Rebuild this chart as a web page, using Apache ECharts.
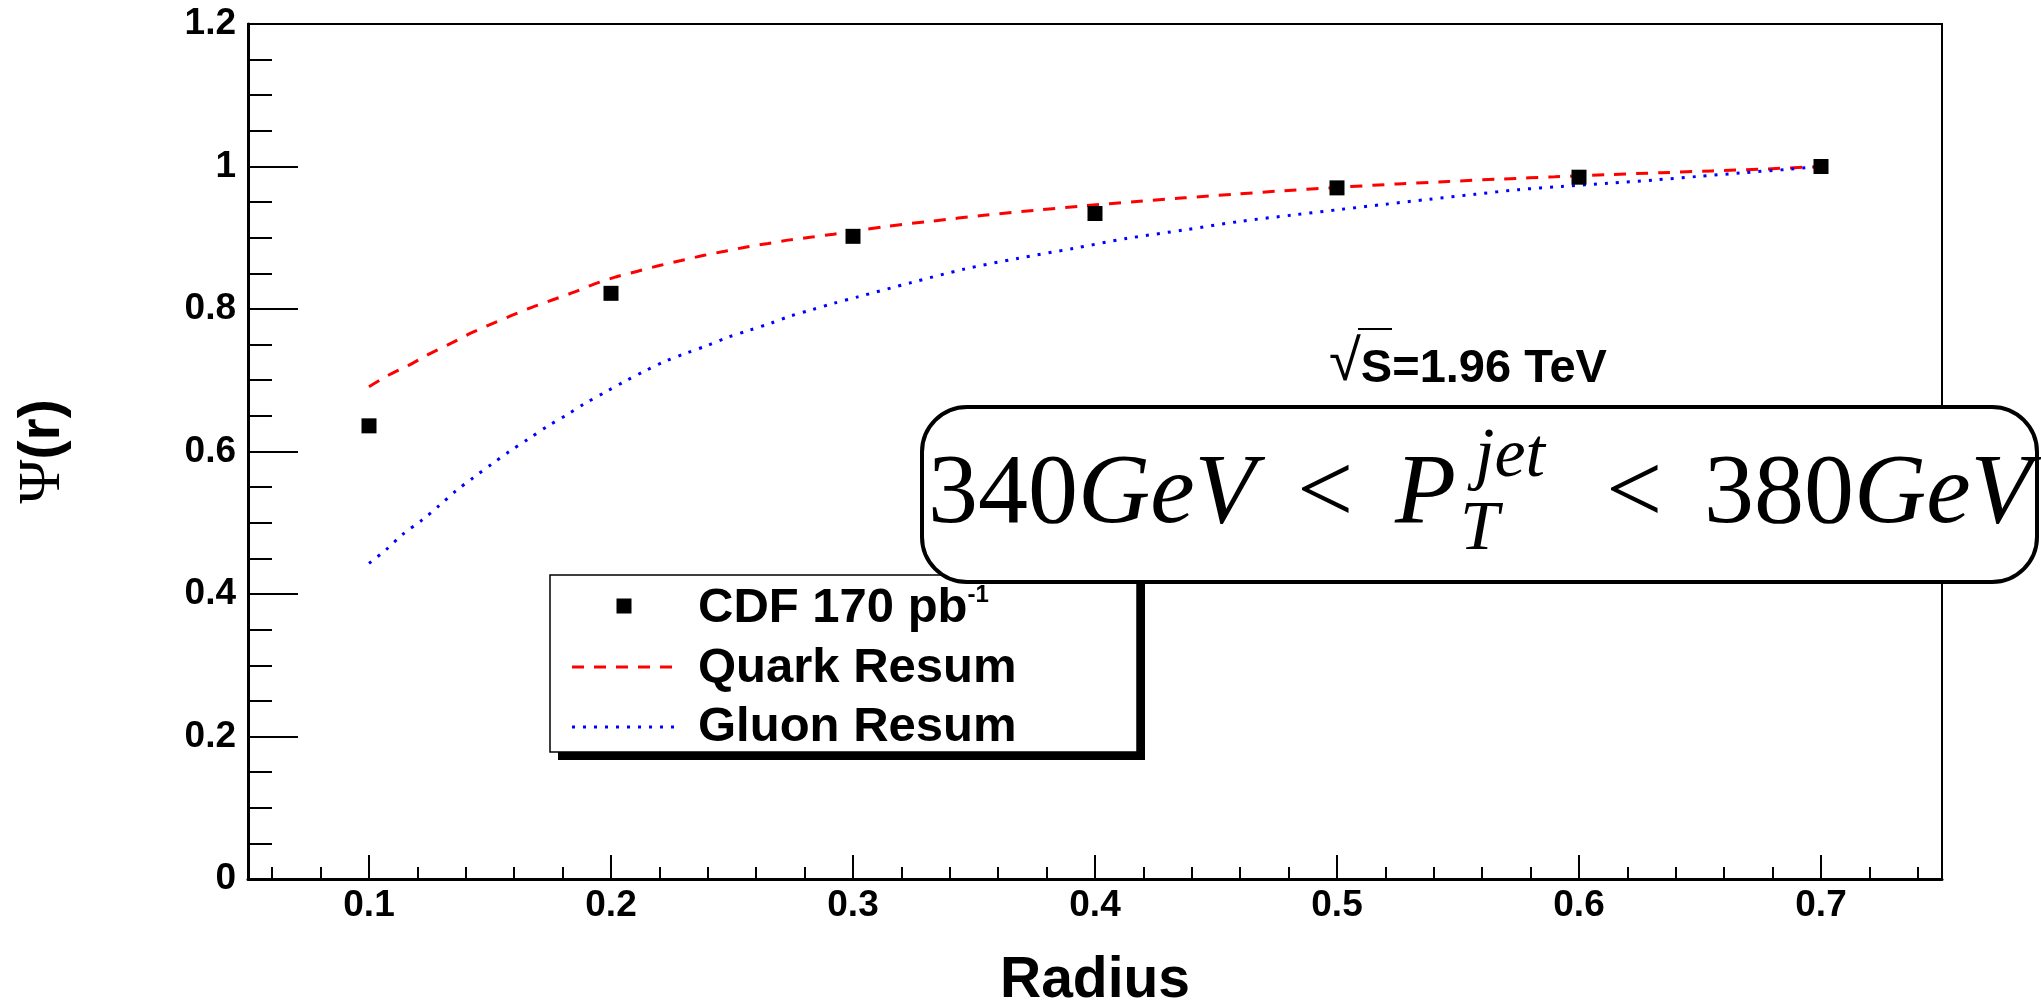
<!DOCTYPE html>
<html>
<head>
<meta charset="utf-8">
<title>Integrated jet shape</title>
<script src="https://cdn.jsdelivr.net/npm/echarts@6/dist/echarts.min.js"></script>
<style>
  html, body { margin: 0; padding: 0; background: #ffffff; }
  #chart { width: 2041px; height: 1000px; }
</style>
</head>
<body>
<div id="chart"></div>
<script>
// Integrated jet shape Psi(r) versus cone radius
const radiusValues = [0.1, 0.2, 0.3, 0.4, 0.5, 0.6, 0.7];
const cdfPsi = [0.636, 0.822, 0.902, 0.934, 0.970, 0.985, 1.000];

const quarkR = [0.100, 0.108, 0.117, 0.125, 0.134, 0.142, 0.150, 0.159, 0.167, 0.176,
  0.185, 0.193, 0.202, 0.211, 0.220, 0.229, 0.238, 0.247, 0.256, 0.265, 0.274, 0.283,
  0.292, 0.301, 0.313, 0.333, 0.354, 0.375, 0.396, 0.416, 0.437, 0.458, 0.478, 0.504,
  0.525, 0.546, 0.569, 0.590, 0.611, 0.634, 0.655, 0.675, 0.700];
const quarkPsi = [0.691, 0.707, 0.722, 0.737, 0.752, 0.766, 0.778, 0.791, 0.802, 0.813,
  0.824, 0.835, 0.845, 0.853, 0.861, 0.868, 0.875, 0.881, 0.887, 0.892, 0.897, 0.901,
  0.905, 0.9095, 0.9156, 0.9235, 0.9315, 0.9385, 0.9450, 0.9505, 0.9560, 0.9612, 0.9660, 0.9715,
  0.9755, 0.9790, 0.9826, 0.9855, 0.9885, 0.9913, 0.9938, 0.9962, 1.000];

const gluonR = [0.100, 0.107, 0.114, 0.122, 0.129, 0.136, 0.143, 0.151, 0.158, 0.166,
  0.174, 0.182, 0.189, 0.198, 0.206, 0.214, 0.222, 0.231, 0.240, 0.248, 0.257, 0.266,
  0.274, 0.283, 0.292, 0.302, 0.324, 0.346, 0.368, 0.391, 0.413, 0.437, 0.460, 0.482,
  0.502, 0.520, 0.538, 0.557, 0.575, 0.593, 0.612, 0.631, 0.649, 0.667, 0.686, 0.700];
const gluonPsi = [0.443, 0.462, 0.484, 0.504, 0.524, 0.545, 0.563, 0.583, 0.600, 0.618,
  0.636, 0.652, 0.667, 0.684, 0.699, 0.713, 0.726, 0.738, 0.749, 0.760, 0.770, 0.780,
  0.790, 0.799, 0.808, 0.817, 0.837, 0.856, 0.871, 0.885, 0.899, 0.911, 0.923, 0.932,
  0.940, 0.947, 0.954, 0.961, 0.9675, 0.972, 0.9765, 0.981, 0.986, 0.991, 0.996, 1.000];

const xTickValues = [0.1, 0.2, 0.3, 0.4, 0.5, 0.6, 0.7];
const xTickLabels = ['0.1', '0.2', '0.3', '0.4', '0.5', '0.6', '0.7'];
const yTickValues = [0, 0.2, 0.4, 0.6, 0.8, 1.0, 1.2];
const yTickLabels = ['0', '0.2', '0.4', '0.6', '0.8', '1', '1.2'];

const seriesNames = ['CDF 170 pb', 'Quark Resum', 'Gluon Resum'];
const lumiExponent = '-1';

const SANS = '"Liberation Sans", Helvetica, Arial, sans-serif';
const SERIF = '"Liberation Serif", "Times New Roman", serif';

function pairs(xs, ys) { return xs.map((x, i) => [x, ys[i]]); }
function lookup(values, labels) {
  return function (v) {
    const i = values.findIndex(t => Math.abs(t - v) < 1e-6);
    return i >= 0 ? labels[i] : '';
  };
}

const chart = echarts.init(document.getElementById('chart'), null, { renderer: 'canvas' });

const option = {
  animation: false,
  backgroundColor: '#ffffff',
  grid: {
    left: 248, right: 99, top: 24, bottom: 121,
    show: true, borderColor: '#000', borderWidth: 2,
    containLabel: false, outerBoundsMode: 'none'
  },
  xAxis: [
    {
      type: 'value', min: 0.05, max: 0.75, splitNumber: 7,
      axisLine: { lineStyle: { color: '#000', width: 3 } },
      axisTick: { inside: true, length: 24, lineStyle: { color: '#000', width: 2 } },
      axisLabel: {
        formatter: lookup(xTickValues, xTickLabels),
        color: '#000', fontFamily: SANS, fontWeight: 'bold', fontSize: 37, margin: 8,
        showMinLabel: false, showMaxLabel: false
      },
      splitLine: { show: false },
      name: 'Radius', nameLocation: 'middle', nameGap: 74,
      nameTextStyle: { color: '#000', fontFamily: SANS, fontWeight: 'bold', fontSize: 57 }
    },
    {
      // fine subdivisions of the radius axis
      type: 'value', min: 0.05, max: 0.75, splitNumber: 35, position: 'bottom',
      axisLine: { show: false },
      axisTick: { inside: true, length: 12, lineStyle: { color: '#000', width: 2 } },
      axisLabel: { show: false },
      splitLine: { show: false }
    }
  ],
  yAxis: {
    type: 'value', min: 0, max: 1.2, interval: 0.2,
    axisLine: { show: true, lineStyle: { color: '#000', width: 3 } },
    axisTick: { show: true, inside: true, length: 50, lineStyle: { color: '#000', width: 2 } },
    minorTick: { show: true, splitNumber: 4, length: 24, lineStyle: { color: '#000', width: 2 } },
    axisLabel: {
      formatter: lookup(yTickValues, yTickLabels),
      color: '#000', fontFamily: SANS, fontWeight: 'bold', fontSize: 37, margin: 12,
      padding: [8, 0, 0, 0]
    },
    splitLine: { show: false },
    name: '{psi|Ψ}{r|(r)}', nameLocation: 'middle', nameGap: 175,
    nameTextStyle: {
      color: '#000',
      rich: {
        psi: { fontFamily: SERIF, fontSize: 60, color: '#000' },
        r: { fontFamily: SANS, fontWeight: 'bold', fontSize: 57, color: '#000' }
      }
    }
  },
  series: [
    {
      name: seriesNames[0], type: 'scatter', xAxisIndex: 0,
      data: pairs(radiusValues, cdfPsi),
      symbol: 'rect', symbolSize: 15,
      itemStyle: { color: '#000', opacity: 1 }, z: 5
    },
    {
      name: seriesNames[1], type: 'line', xAxisIndex: 0,
      data: pairs(quarkR, quarkPsi),
      showSymbol: false, symbol: 'none', smooth: 0.3,
      lineStyle: { color: '#ff0000', width: 3, type: [12, 10] }, z: 3
    },
    {
      name: seriesNames[2], type: 'line', xAxisIndex: 0,
      data: pairs(gluonR, gluonPsi),
      showSymbol: false, symbol: 'none', smooth: 0.3,
      lineStyle: { color: '#0000ff', width: 3, type: [3, 8] }, z: 3
    }
  ],
  graphic: [
    // legend box with drop shadow
    { type: 'rect', z: 10, shape: { x: 558, y: 583, width: 587, height: 177 }, style: { fill: '#000' } },
    { type: 'rect', z: 11, shape: { x: 550, y: 575, width: 587, height: 177 },
      style: { fill: '#fff', stroke: '#000', lineWidth: 1.5 } },
    { type: 'rect', z: 12, shape: { x: 616.5, y: 598.5, width: 15, height: 15 }, style: { fill: '#000' } },
    { type: 'line', z: 12, shape: { x1: 572, y1: 667, x2: 674, y2: 667 },
      style: { stroke: '#ff0000', lineWidth: 3, lineDash: [12, 10] } },
    { type: 'line', z: 12, shape: { x1: 572, y1: 727, x2: 674, y2: 727 },
      style: { stroke: '#0000ff', lineWidth: 3, lineDash: [3, 8] } },
    { type: 'text', z: 12, x: 698, y: 608,
      style: {
        text: '{b|' + seriesNames[0] + '}{sup|' + lumiExponent + '}',
        verticalAlign: 'middle', align: 'left',
        rich: {
          b: { fontFamily: SANS, fontWeight: 'bold', fontSize: 49, fill: '#000' },
          sup: { fontFamily: SANS, fontWeight: 'bold', fontSize: 24, fill: '#000', verticalAlign: 'top' }
        }
      } },
    { type: 'text', z: 12, x: 698, y: 668,
      style: { text: seriesNames[1], font: 'bold 49px ' + SANS, fill: '#000', verticalAlign: 'middle' } },
    { type: 'text', z: 12, x: 698, y: 727,
      style: { text: seriesNames[2], font: 'bold 49px ' + SANS, fill: '#000', verticalAlign: 'middle' } },

    // centre-of-mass energy
    { type: 'text', z: 15, x: 1329, y: 364,
      style: {
        text: '{sq|√}{t|S=1.96 TeV}', verticalAlign: 'middle', align: 'left',
        rich: {
          sq: { fontFamily: SANS, fontSize: 58, fill: '#000', verticalAlign: 'bottom' },
          t: { fontFamily: SANS, fontWeight: 'bold', fontSize: 47, fill: '#000', verticalAlign: 'bottom' }
        }
      } },
    { type: 'line', z: 15, shape: { x1: 1358, y1: 329, x2: 1392, y2: 329 },
      style: { stroke: '#000', lineWidth: 2 } },

    // transverse momentum window
    { type: 'rect', z: 20, shape: { x: 922, y: 407, width: 1115, height: 175, r: 45 },
      style: { fill: '#fff', stroke: '#000', lineWidth: 4 } },
    { type: 'text', z: 21, x: 928, y: 496,
      style: {
        text: '{n|340}{i|GeV}', verticalAlign: 'middle',
        rich: {
          n: { fontFamily: SERIF, fontSize: 100, fill: '#000' },
          i: { fontFamily: SERIF, fontStyle: 'italic', fontSize: 100, fill: '#000' }
        }
      } },
    { type: 'text', z: 21, x: 1297, y: 496,
      style: { text: '<', font: '100px ' + SERIF, fill: '#000', verticalAlign: 'middle' } },
    { type: 'text', z: 21, x: 1395, y: 496,
      style: { text: 'P', font: 'italic 100px ' + SERIF, fill: '#000', verticalAlign: 'middle' } },
    { type: 'text', z: 21, x: 1475, y: 458,
      style: { text: 'jet', font: 'italic 70px ' + SERIF, fill: '#000', verticalAlign: 'middle' } },
    { type: 'text', z: 21, x: 1460, y: 531,
      style: { text: 'T', font: 'italic 70px ' + SERIF, fill: '#000', verticalAlign: 'middle' } },
    { type: 'text', z: 21, x: 1606, y: 496,
      style: { text: '<', font: '100px ' + SERIF, fill: '#000', verticalAlign: 'middle' } },
    { type: 'text', z: 21, x: 1704, y: 496,
      style: {
        text: '{n|380}{i|GeV}', verticalAlign: 'middle',
        rich: {
          n: { fontFamily: SERIF, fontSize: 100, fill: '#000' },
          i: { fontFamily: SERIF, fontStyle: 'italic', fontSize: 100, fill: '#000' }
        }
      } }
  ]
};

chart.setOption(option);
</script>
</body>
</html>
